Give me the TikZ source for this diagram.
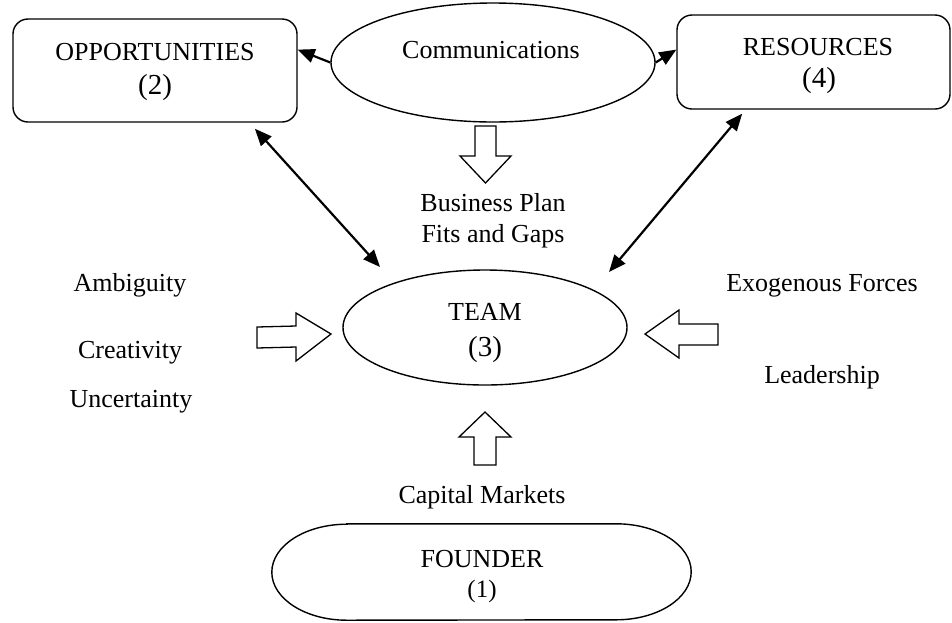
\documentclass[tikz,border=0pt]{standalone}
\usepackage{fontspec}
\setmainfont{Liberation Serif}
\usetikzlibrary{calc,arrows.meta,shapes.geometric}

\begin{document}
\begin{tikzpicture}[x=1pt,y=-1pt,
  shapeline/.style={draw=black, line width=1.4pt},
  boxnode/.style={shapeline, rectangle, rounded corners=15pt, inner sep=0pt},
  ovalnode/.style={shapeline, ellipse, inner sep=0pt},
  lbl/.style={anchor=base, inner sep=0pt, font=\fontsize{26}{30}\selectfont},
  numlbl/.style={lbl, font=\fontsize{29}{33}\selectfont},
  conn/.style={line width=2.2pt, -{Triangle[length=17pt,width=14pt]}},
  bothconn/.style={line width=2.2pt, {Triangle[length=17pt,width=14pt]}-{Triangle[length=17pt,width=14pt]}},
  blockarrow/.style={draw=black, line width=1.3pt, line join=miter, fill=white},
]
\useasboundingbox (0,0) rectangle (952,622);

% main shapes
\node[boxnode, minimum width=284pt, minimum height=103pt] (opp) at (155,70.5) {};
\node[boxnode, minimum width=273pt, minimum height=94pt] (res) at (813.5,62) {};
\node[ovalnode, minimum width=324pt, minimum height=119pt] (comm) at (493,62.5) {};
\node[ovalnode, minimum width=284pt, minimum height=115pt] (team) at (485,327.5) {};

% founder: a bar with elliptical ends
\node[inner sep=0pt, minimum width=419pt, minimum height=96pt] (founder) at (481.5,572) {};
\draw[shapeline] ($(founder.north west)+(75,0)$) -- ($(founder.north east)+(-75,0)$)
  arc[start angle=90, end angle=-90, x radius=75pt, y radius=48pt]
  -- ($(founder.south west)+(75,0)$)
  arc[start angle=270, end angle=90, x radius=75pt, y radius=48pt] -- cycle;

% block arrows feeding the team
\draw[blockarrow] (475,126) -- (496,126) -- (496,156) -- (511,156) -- (485.5,183) -- (460,156) -- (475,156) -- cycle;
\draw[blockarrow] (257,327) -- (296,326) -- (296,313) -- (331,334) -- (296,361) -- (296,347) -- (257,348) -- cycle;
\draw[blockarrow] (645,334) -- (679,310) -- (679,324) -- (718,324) -- (718,345) -- (679,345) -- (679,358) -- cycle;
\draw[blockarrow] (485,412) -- (511,437) -- (496,437) -- (496,465) -- (474,465) -- (474,437) -- (459,437) -- cycle;

% connectors
\draw[conn] (comm.west) -- ($(opp.north east)!0.3!(opp.south east)$);
\draw[conn] (comm.east) -- ($(res.north west)!0.37!(res.south west)$);
\draw[bothconn] ($(opp.south west)!0.85!(opp.south east)+(0,6)$) -- ($(team.center)+(-105,-60.5)$);
\draw[bothconn] ($(res.south west)!0.24!(res.south east)+(0,4)$) -- ($(team.center)+(124,-55.5)$);

% labels
\node[lbl] (oppname) at (155,60) {OPPORTUNITIES};
\node[numlbl] (oppnum) at (155,94) {(2)};
\node[lbl] (commname) at (491,58) {Communications};
\node[lbl] (resname) at (818,55) {RESOURCES};
\node[numlbl] (resnum) at (819,87) {(4)};
\node[lbl] (plan1) at (493,211) {Business Plan};
\node[lbl] (plan2) at (493,242) {Fits and Gaps};
\node[lbl] (teamname) at (485,320) {TEAM};
\node[numlbl] (teamnum) at (485,356) {(3)};
\node[lbl] (capital) at (482,503) {Capital Markets};
\node[lbl] (foundername) at (482,567) {FOUNDER};
\node[lbl, font=\fontsize{25}{29}\selectfont] (foundernum) at (482,597) {(1)};
\node[lbl] (ambig) at (130,291) {Ambiguity};
\node[lbl] (creat) at (130,358) {Creativity};
\node[lbl] (uncert) at (131,407) {Uncertainty};
\node[lbl] (exog) at (822,291) {Exogenous Forces};
\node[lbl] (lead) at (822,383) {Leadership};
\end{tikzpicture}
\end{document}
